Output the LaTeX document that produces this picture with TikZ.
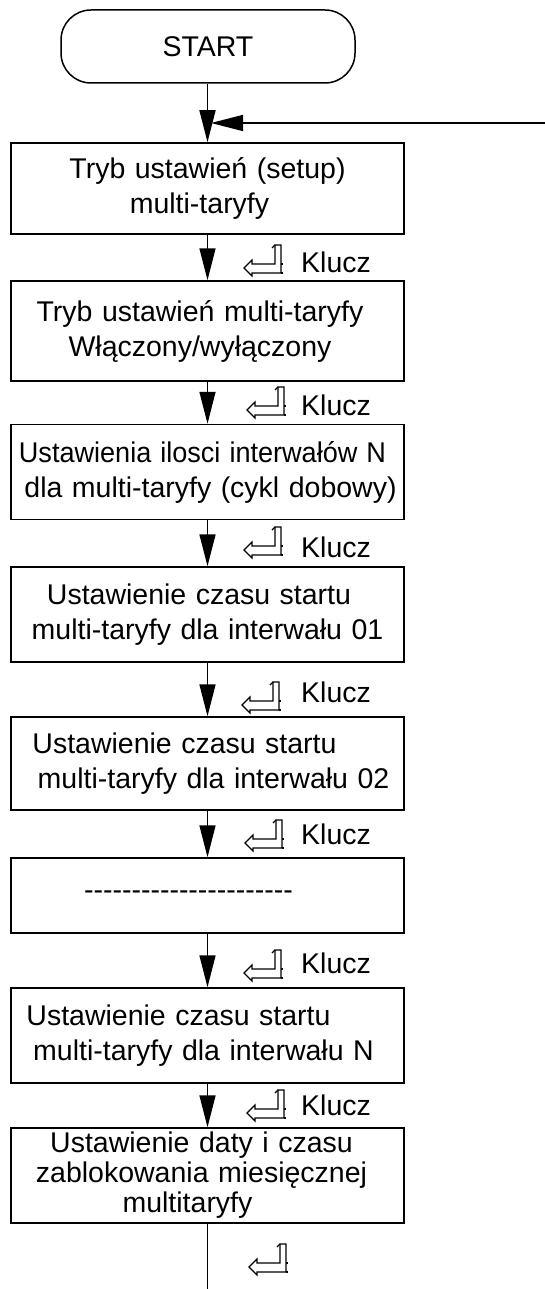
\documentclass[tikz,border=0pt]{standalone}
\usepackage{fontspec}
\setmainfont{Liberation Sans}
\usetikzlibrary{arrows.meta}
\newcommand{\hy}{\mbox{-}}
\newcommand{\shl}[2]{\hspace*{#1}#2}
\tikzset{
  boxfont/.style={font=\fontsize{28.5}{35}\selectfont},
  stepbox/.style={draw,line width=1.5pt,rectangle,text width=393pt,align=center,inner sep=0pt,boxfont},
  startbox/.style={draw,line width=1.5pt,rectangle,rounded corners=30pt,minimum width=294pt,minimum height=73pt,inner sep=0pt,boxfont},
  flow/.style={line width=1.5pt,-{Triangle[length=32pt,width=16pt]}},
  plain/.style={line width=1.5pt},
  keylabel/.style={anchor=west,inner sep=0pt,boxfont},
  keyicon/.pic={
    \draw[line width=1.2pt,line join=miter] (0,0) -- (8,-8) -- (8,-4) -- (31,-4) -- (31,-23) -- (37,-23) -- (37,5) -- (8,5) -- (8,8) -- cycle;
    \draw[line width=1.2pt] (31,-23) -- (28,-20);
    \draw[line width=1.2pt] (37,-4) -- (39,-4) (37,5) -- (39,5);
  }
}
\begin{document}
\begin{tikzpicture}[x=1pt,y=-1pt]
\useasboundingbox (0,0) rectangle (545,1289);
\node[startbox] (start) at (208,46.5) {START};
\node[stepbox,minimum height=91pt] (b1) at (207.5,188.5) {Tryb ustawień (setup)\\ \shl{-16pt}{multi-taryfy}};
\node[stepbox,minimum height=100pt] (b2) at (207.5,331) {\shl{-15pt}{Tryb ustawień multi-taryfy}\\ \shl{-15pt}{Włączony/wyłączony}};
\node[stepbox,minimum height=95pt] (b3) at (207.5,472) {\shl{-10pt}{\scalebox{0.95}[1]{Ustawienia ilosci interwałów N}}\\ \shl{6pt}{dla multi-taryfy (cykl dobowy)}};
\node[stepbox,minimum height=95pt] (b4) at (207.5,614.5) {\shl{-17pt}{Ustawienie czasu startu}\\ multi-taryfy dla interwału 01};
\node[stepbox,minimum height=93pt] (b5) at (207.5,763.5) {\shl{-46pt}{Ustawienie czasu startu}\\ \shl{12pt}{multi-taryfy dla interwału 02}};
\node[stepbox,minimum height=75pt] (b6) at (207.5,895.5) {\shl{-38pt}{\hy\hy\hy\hy\hy\hy\hy\hy\hy\hy\hy\hy\hy\hy\hy\hy\hy\hy\hy\hy\hy\hy}};
\node[stepbox,minimum height=95pt] (b7) at (207.5,1035.5) {\shl{-58pt}{Ustawienie czasu startu}\\ \shl{-8pt}{multi-taryfy dla interwału N}};
\node[stepbox,minimum height=95pt,font=\fontsize{28.5}{30}\selectfont] (b8) at (207.5,1175.5) {\shl{-12pt}{Ustawienie daty i czasu}\\ \shl{-12pt}{zablokowania miesięcznej}\\ \shl{-40pt}{multitaryfy}};
\coordinate (loopR) at (545,123);
\coordinate (loopJ) at (211,123);
\coordinate (endpt) at (207.5,1289);
\draw[flow] (start.south -| b1.north) -- (b1.north);
\draw[flow] (loopR) -- (loopJ);
\draw[flow] (b1.south) -- (b2.north);
\draw[flow] (b2.south) -- (b3.north);
\draw[flow] (b3.south) -- (b4.north);
\draw[flow] (b4.south) -- (b5.north);
\draw[flow] (b5.south) -- (b6.north);
\draw[flow] (b6.south) -- (b7.north);
\draw[flow] (b7.south) -- (b8.north);
\draw[plain] (b8.south) -- (endpt);
\pic at (244,268) {keyicon};
\pic at (247,410) {keyicon};
\pic at (244,550) {keyicon};
\pic at (242,705) {keyicon};
\pic at (245,843) {keyicon};
\pic at (244,973) {keyicon};
\pic at (247,1113) {keyicon};
\pic at (249,1267) {keyicon};
\node[keylabel] (k1) at (301,262) {Klucz};
\node[keylabel] (k2) at (301,405) {Klucz};
\node[keylabel] (k3) at (301,547) {Klucz};
\node[keylabel] (k4) at (301,692) {Klucz};
\node[keylabel] (k5) at (301,834) {Klucz};
\node[keylabel] (k6) at (301,963) {Klucz};
\node[keylabel] (k7) at (301,1105) {Klucz};
\end{tikzpicture}
\end{document}
